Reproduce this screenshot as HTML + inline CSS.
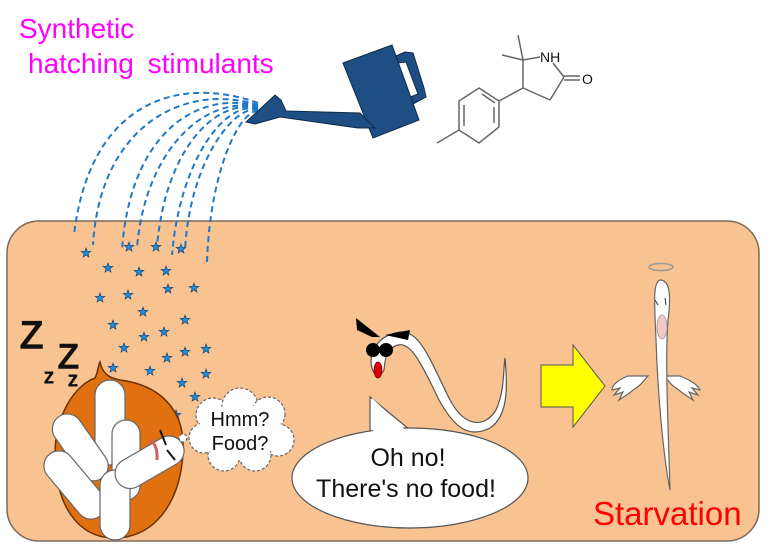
<!DOCTYPE html>
<html><head><style>
body{margin:0;background:#fff;}
svg{display:block;font-family:"Liberation Sans",sans-serif;}
</style></head><body>
<svg width="772" height="551" viewBox="0 0 772 551" xmlns="http://www.w3.org/2000/svg">
<defs>
<g id="st"><polygon points="0,-5 1.2,-1.6 4.8,-1.5 1.9,0.6 2.9,4 0,2 -2.9,4 -1.9,0.6 -4.8,-1.5 -1.2,-1.6" fill="#1e90e0" stroke="#14406e" stroke-width="0.7"/></g>
</defs>
<rect x="7" y="221" width="752" height="320" rx="32" fill="#f8c291" stroke="#7a6a5a" stroke-width="1.5"/>
<text x="19" y="38" font-size="28" fill="#ff00ff">Synthetic</text>
<text x="28" y="73" font-size="28" fill="#ff00ff" word-spacing="6">hatching stimulants</text>
<g fill="none" stroke="#1e78c8" stroke-width="2" stroke-dasharray="6,4">
<path d="M258,103 C180,75 90,100 74,235"/>
<path d="M258,105 C185,82 100,125 93,245"/>
<path d="M258,106 C195,90 130,135 122,250"/>
<path d="M258,107 C205,95 145,150 137,248"/>
<path d="M258,108 C215,98 165,150 157,247"/>
<path d="M258,109 C225,100 180,160 172,255"/>
<path d="M258,110 C235,104 190,160 185,250"/>
<path d="M258,111 C240,110 210,170 207,262"/>
</g>
<g>
<use href="#st" x="86" y="253"/><use href="#st" x="129" y="247"/><use href="#st" x="156" y="247"/><use href="#st" x="181" y="249"/>
<use href="#st" x="108" y="268"/><use href="#st" x="139" y="272"/><use href="#st" x="166" y="271"/><use href="#st" x="194" y="288"/>
<use href="#st" x="100" y="298"/><use href="#st" x="128" y="295"/><use href="#st" x="168" y="289"/>
<use href="#st" x="143" y="312"/><use href="#st" x="185" y="320"/><use href="#st" x="113" y="325"/><use href="#st" x="144" y="337"/><use href="#st" x="164" y="332"/>
<use href="#st" x="124" y="348"/><use href="#st" x="167" y="358"/><use href="#st" x="185" y="352"/><use href="#st" x="206" y="349"/>
<use href="#st" x="113" y="368"/><use href="#st" x="150" y="371"/><use href="#st" x="206" y="374"/><use href="#st" x="182" y="383"/>
<use href="#st" x="135" y="390"/><use href="#st" x="195" y="397"/><use href="#st" x="147" y="408"/><use href="#st" x="176" y="415"/>
</g>
<g fill="#1f4e85" stroke="#0d2a4a" stroke-width="1">
<path d="M396,56 L405,52 L413,53 L424,88 L426,97 L413,104 L410,97 L418,94 L406,62 L398,63 Z"/>
<polygon points="343,63 392,45 419,120 373,138"/>
<polygon points="246,122 275,95 281,100 286,111 360,113 375,128 358,128 280,117 255,124"/>
</g>
<g stroke="#666" stroke-width="1.5" fill="none">
<polyline points="518,35 523,60 502,55"/>
<line x1="523" y1="60" x2="540" y2="57"/>
<line x1="553" y1="63" x2="564" y2="77"/>
<line x1="564" y1="77" x2="550" y2="100"/>
<line x1="550" y1="100" x2="523" y2="88"/>
<line x1="523" y1="88" x2="523" y2="60"/>
<line x1="564" y1="76" x2="580" y2="76"/><line x1="564" y1="80" x2="580" y2="80"/>
<line x1="523" y1="88" x2="499" y2="101"/>
<polygon points="479,88 499,101 499,127 479,143 459,130 459,101"/>
<line x1="482" y1="94" x2="495" y2="103"/><line x1="494" y1="107" x2="494" y2="123"/><line x1="464" y1="105" x2="464" y2="126"/>
<line x1="459" y1="130" x2="437" y2="143"/>
</g>
<text x="540" y="62" font-size="14" fill="#111">NH</text>
<text x="582" y="84" font-size="14" fill="#111">O</text>
<g fill="#111" stroke="#111">
<text x="20" y="348" font-size="38" stroke-width="1.5">Z</text>
<text x="58" y="368" font-size="34" stroke-width="1.5">Z</text>
<text x="44" y="383" font-size="20" stroke-width="1">z</text>
<text x="68" y="386" font-size="20" stroke-width="1">z</text>
<text x="78" y="407" font-size="15" stroke-width="1">z</text>
</g>
<path d="M100,362 C103,375 110,378 120,380 C160,385 185,410 183,450 C182,495 160,535 118,538 C75,540 55,500 55,455 C55,415 75,385 95,378 C98,372 98,366 100,362 Z" fill="#e07010" stroke="#6a3000" stroke-width="1.5"/>
<g fill="#fff" stroke="#666" stroke-width="1.2">
<rect x="95" y="380" width="30" height="85" rx="15"/>
<rect x="65" y="410" width="30" height="75" rx="15" transform="rotate(-35 80 447)"/>
<rect x="112" y="420" width="28" height="80" rx="14"/>
<rect x="60" y="445" width="30" height="80" rx="15" transform="rotate(-40 75 485)"/>
<rect x="100" y="470" width="30" height="70" rx="15"/>
<rect x="135" y="425" width="30" height="75" rx="15" transform="rotate(60 150 462)"/>
</g>
<path d="M150,440 Q158,445 157,460" stroke="#d06060" stroke-width="3" fill="none"/>
<line x1="160" y1="430" x2="166" y2="445" stroke="#111" stroke-width="2"/>
<line x1="167" y1="450" x2="175" y2="460" stroke="#111" stroke-width="2"/>
<g fill="#fff" stroke="#666" stroke-width="1.2" stroke-dasharray="3,2">
<circle cx="213" cy="415" r="17"/><circle cx="240" cy="406" r="18"/><circle cx="268" cy="414" r="17"/>
<circle cx="278" cy="440" r="16"/><circle cx="255" cy="455" r="16"/><circle cx="224" cy="455" r="16"/><circle cx="204" cy="438" r="15"/>
<circle cx="183" cy="438" r="4"/>
</g>
<ellipse cx="240" cy="432" rx="42" ry="28" fill="#fff"/>
<text x="240" y="426" font-size="20" text-anchor="middle" fill="#111">Hmm?</text>
<text x="240" y="450" font-size="20" text-anchor="middle" fill="#111">Food?</text>
<path d="M370,397 L410,430 L370,435 Z" fill="#fff" stroke="#555" stroke-width="1.2"/>
<ellipse cx="410" cy="478" rx="118" ry="50" fill="#fff" stroke="#555" stroke-width="1.2"/>
<polygon points="372,398 407,432 373,436" fill="#fff"/>
<text x="408" y="466" font-size="25" text-anchor="middle" fill="#111">Oh no!</text>
<text x="406" y="497" font-size="25" text-anchor="middle" fill="#111">There's no food!</text>
<path d="M372,368 C368,352 378,335 400,332 C420,330 430,360 450,400 C465,428 485,428 496,410 C505,390 503,370 505,358 C507,380 510,415 490,428 C470,438 455,430 438,398 C420,360 410,342 398,345 C386,348 385,360 384,370 C380,378 374,376 372,368 Z" fill="#fff" stroke="#555" stroke-width="1.2"/>
<polygon points="356,318 380,337 372,337 357,330" fill="#000"/>
<polygon points="385,335 410,330 408,340" fill="#000"/>
<circle cx="373" cy="350" r="7" fill="#000"/><circle cx="386" cy="350" r="7" fill="#000"/>
<ellipse cx="378" cy="370" rx="4" ry="8" fill="#e00000" stroke="#600" stroke-width="0.8"/>
<polygon points="541,365 573,365 573,345 605,386 573,427 573,407 541,407" fill="#ffff00" stroke="#555" stroke-width="1"/>
<ellipse cx="661" cy="267" rx="12" ry="3.5" fill="none" stroke="#999" stroke-width="1.5"/>
<g fill="#fff" stroke="#666" stroke-width="1.2">
<path d="M628,376 C618,380 612,385 612,390 L620,388 L614,395 L623,392 L619,400 L628,394 L640,385 L648,376 Z"/>
<path d="M680,376 C690,380 698,385 700,390 L692,388 L698,395 L689,392 L693,400 L684,394 L672,385 L664,376 Z"/>
<path d="M660,280 C668,280 672,290 668,320 C665,360 668,420 670,490 C664,460 658,400 656,340 C655,310 652,282 660,280 Z"/>
</g>
<ellipse cx="662" cy="327" rx="5" ry="12" fill="#f0c8c8" stroke="#999" stroke-width="0.8"/>
<line x1="655" y1="300" x2="658" y2="305" stroke="#333"/><line x1="665" y1="298" x2="666" y2="305" stroke="#333"/>
<text x="593" y="525" font-size="33" fill="#ff0000">Starvation</text>
</svg>
</body></html>
